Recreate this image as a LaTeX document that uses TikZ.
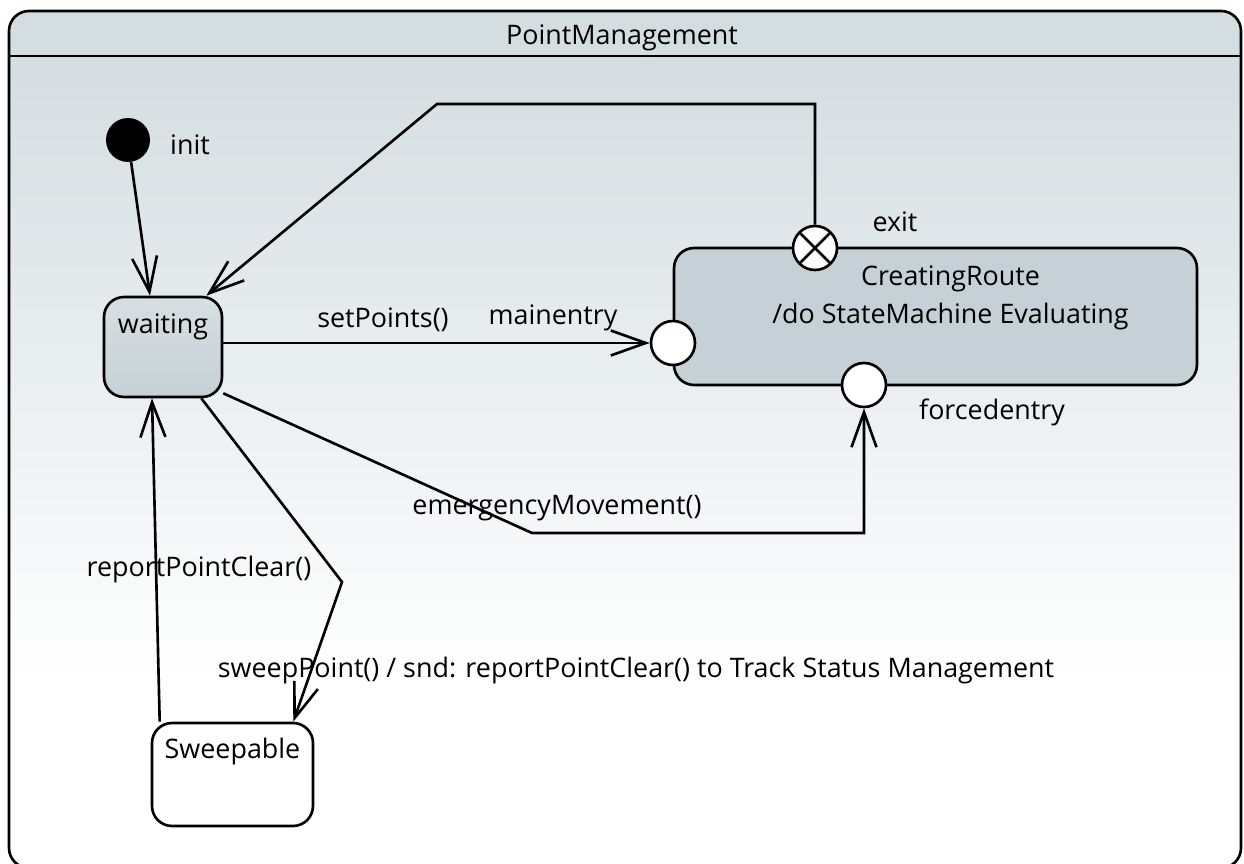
\documentclass[tikz,border=0pt]{standalone}
\usepackage{fontspec}
\setmainfont{Open Sans}
\usetikzlibrary{arrows.meta}

\definecolor{framegray}{RGB}{212,221,224}
\definecolor{stategray}{RGB}{197,209,214}
\definecolor{statelight}{RGB}{214,223,226}

\begin{document}
\begin{tikzpicture}[
  x=0.02cm, y=-0.02cm,
  every node/.style={font=\fontsize{15.3}{21.5}\selectfont, align=center},
  state/.style={rectangle, draw=black, line width=1.5pt, rounded corners=0.4cm, inner sep=0pt},
  pin/.style={circle, draw=black, line width=1.5pt, fill=white, minimum size=0.88cm, inner sep=0pt},
  tr/.style={draw=black, line width=1.5pt, -{Straight Barb[length=0.7cm, width=0.5cm]}},
  lbl/.style={inner sep=1pt}
]
\useasboundingbox (0,0) rectangle (1244,864);

% Rahmen PointManagement
\begin{scope}
  \clip[rounded corners=0.4cm] (9,11) rectangle (1241,868);
  \fill[white] (0,0) rectangle (1244,880);
  \shade[top color=framegray, bottom color=white] (0,56) rectangle (1244,680);
  \fill[framegray] (0,0) rectangle (1244,56);
\end{scope}
\draw[line width=1.5pt, rounded corners=0.4cm] (9,11) rectangle (1241,868);
\draw[line width=1.5pt] (9,56) -- (1241,56);
\node (title) at (622,38) {PointManagement};

% Zustaende
\node[circle, fill=black, minimum size=0.88cm, inner sep=0pt] (init) at (128,140) {};
\node[state, top color=statelight, bottom color=stategray, minimum width=2.36cm, minimum height=2cm,
  label={[yshift=0.4cm]center:waiting}] (waiting) at (163,347) {};
\node[state, fill=stategray, minimum width=10.46cm, minimum height=2.74cm,
  label={[xshift=0.3cm, yshift=0.38cm]center:CreatingRoute\\/do StateMachine Evaluating}] (creating) at (935.5,316.5) {};
\node[state, fill=white, minimum width=3.22cm, minimum height=2.06cm,
  label={[yshift=0.45cm]center:Sweepable}] (sweepable) at (232.5,774.5) {};

% Ein- und Austrittspunkte
\node[pin] (mainentry) at (673,343) {};
\node[pin] (forcedentry) at (864,385) {};
\node[pin, path picture={
  \draw[line width=1.5pt] (path picture bounding box.north west) -- (path picture bounding box.south east)
    (path picture bounding box.north east) -- (path picture bounding box.south west);}] (exit) at (815,248) {};

% Knicke
\coordinate (bendA) at (437,104);
\coordinate (bendB) at (532,533);
\coordinate (bendC) at (342,582);

% Transitionen
\draw[tr] (init) -- ([xshift=-0.26cm]waiting.north);
\draw[tr] (exit) |- (bendA) -- ([xshift=-0.34cm]waiting.north east);
\draw[tr] (waiting.east |- mainentry) -- (mainentry);
\draw[tr] ([yshift=0.1cm]waiting.south east) -- (bendB) -| (forcedentry);
\draw[tr] ([xshift=-0.44cm]waiting.south east) -- (bendC) -- ([xshift=-0.42cm]sweepable.north east);
\draw[tr] ([xshift=0.18cm]sweepable.north west) -- ([xshift=-0.22cm]waiting.south);

% Beschriftungen
\node[lbl] (initlbl) at (190,145) {init};
\node[lbl] (exitlbl) at (895,222) {exit};
\node[lbl] (mainlbl) at (553,318) {mainentry};
\node[lbl] (forcedlbl) at (992,412) {forcedentry};
\node[lbl] (setlbl) at (383,320) {setPoints()};
\node[lbl] (emerglbl) at (557,508) {emergencyMovement()};
\node[lbl] (reportlbl) at (199,570) {reportPointClear()};
\node[lbl] (sweeplbl) at (636,671) {sweepPoint() / snd: reportPointClear() to Track Status Management};
\end{tikzpicture}
\end{document}
